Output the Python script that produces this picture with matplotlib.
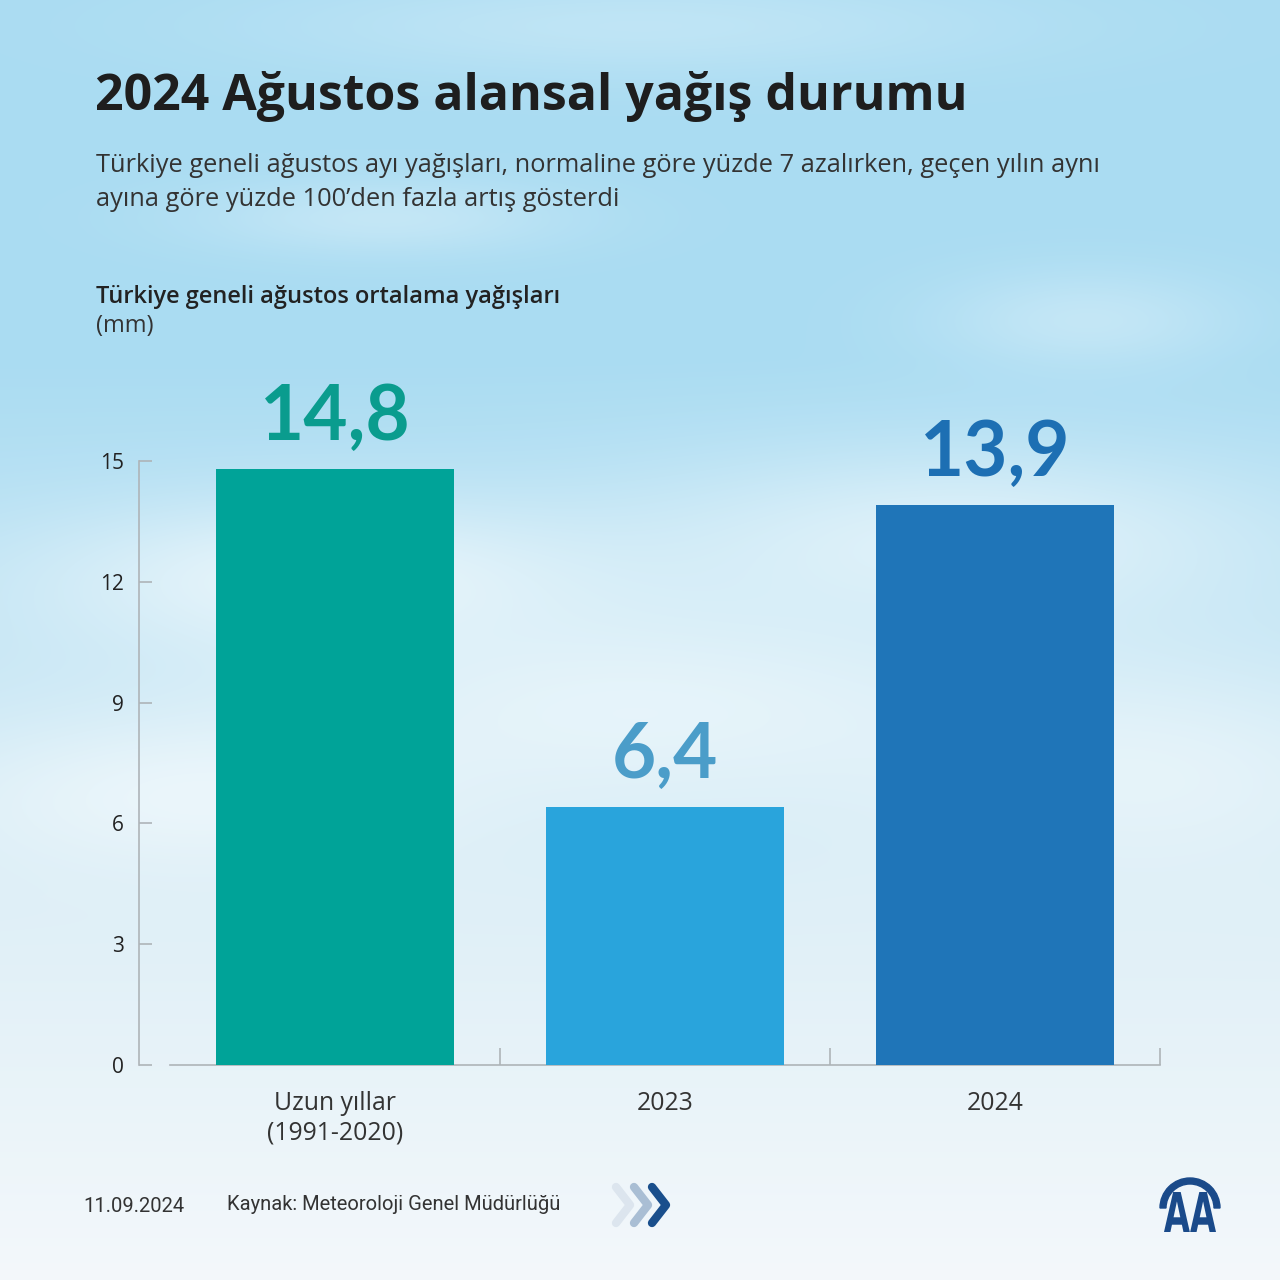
import numpy as np
import matplotlib.pyplot as plt
from matplotlib.patches import Wedge, PathPatch
from matplotlib.textpath import TextPath
from matplotlib.font_manager import FontProperties
from matplotlib.transforms import Affine2D

# veriler
kategoriler = ["Uzun yıllar\n(1991-2020)", "2023", "2024"]
degerler = [14.8, 6.4, 13.9]
bar_renk = ["#00A398", "#29A4DC", "#1F75B8"]
etiket_renk = ["#0A9C8E", "#4B9DC9", "#1D6FB3"]
y_ticks = [0, 3, 6, 9, 12, 15]

plt.rcParams['font.family'] = ['Open Sans', 'DejaVu Sans']

W, H = 1280, 1280
fig = plt.figure(figsize=(12.8, 12.8), dpi=100)

# arka plan: gökyüzü gradyanı + yumuşak bulutlar
bg = fig.add_axes([0, 0, 1, 1])
yy, xx = np.mgrid[0:H, 0:W] / H
top = np.array([170, 220, 242]) / 255
mid = np.array([222, 239, 247]) / 255
bot = np.array([244, 248, 251]) / 255
t = np.clip((yy - 0.28) / 0.42, 0, 1)[..., None]
t2 = np.clip((yy - 0.7) / 0.3, 0, 1)[..., None]
img = top * (1 - t) + mid * t
img = img * (1 - t2) + bot * t2
bulutlar = [(0.25, 0.45, 0.22, 0.06, 0.6), (0.75, 0.42, 0.25, 0.07, 0.5),
            (0.5, 0.55, 0.3, 0.08, 0.5), (0.15, 0.62, 0.2, 0.06, 0.5),
            (0.9, 0.6, 0.2, 0.08, 0.4), (0.3, 0.17, 0.15, 0.03, 0.3),
            (0.85, 0.25, 0.12, 0.04, 0.3), (0.5, 0.02, 0.3, 0.04, 0.25)]
for cx, cy, sx, sy, a in bulutlar:
    g = a * np.exp(-(((xx - cx) / sx) ** 2 + ((yy - cy) / sy) ** 2))
    img = img * (1 - g[..., None]) + g[..., None] * 1.0
bg.imshow(img, extent=[0, W, H, 0], aspect='auto')
bg.set_xlim(0, W)
bg.set_ylim(H, 0)
bg.axis('off')

# başlıklar
fig.text(95 / W, 1 - 110 / H, "2024 Ağustos alansal yağış durumu", fontsize=36,
         fontweight='bold', color='#1E1E1E', va='baseline')
fig.text(96 / W, 1 - 172 / H,
         "Türkiye geneli ağustos ayı yağışları, normaline göre yüzde 7 azalırken, geçen yılın aynı",
         fontsize=18.3, color='#333333', va='baseline')
fig.text(96 / W, 1 - 206 / H, "ayına göre yüzde 100’den fazla artış gösterdi",
         fontsize=18.3, color='#333333', va='baseline')
fig.text(96 / W, 1 - 303 / H, "Türkiye geneli ağustos ortalama yağışları", fontsize=17,
         fontweight='semibold', color='#222222', va='baseline')
fig.text(96 / W, 1 - 332 / H, "(mm)", fontsize=17, color='#333333', va='baseline')

# grafik
ax = fig.add_axes([139 / W, 1 - 1065 / H, (1160 - 139) / W, (1065 - 461) / H])
ax.patch.set_alpha(0)
x = np.arange(len(degerler))
ax.bar(x, degerler, width=0.72, color=bar_renk, zorder=3)
for i, v in enumerate(degerler):
    ax.annotate(f"{v:.1f}".replace('.', ','), xy=(i, v), xytext=(0, 21),
                textcoords='offset points', ha='center', va='baseline',
                fontsize=55, fontweight='bold', color=etiket_renk[i],
                annotation_clip=False, family=['Lato', 'DejaVu Sans'])

ax.set_xlim(-0.5 - 31 / 330, 2.5)
ax.set_ylim(0, 15)
ax.set_yticks(y_ticks)
ax.set_yticklabels([str(v) for v in y_ticks])
ax.set_xticks(x)
ax.set_xticklabels(kategoriler, linespacing=1.2)
ax.set_xticks([0.5, 1.5, 2.5], minor=True)

for s in ['top', 'right']:
    ax.spines[s].set_visible(False)
ax.spines['left'].set_bounds(0, 15)
ax.spines['bottom'].set_bounds(-0.5, 2.5)
for s in ['left', 'bottom']:
    ax.spines[s].set_color('#AEB4B8')
    ax.spines[s].set_linewidth(1.2)

ax.tick_params(axis='y', direction='in', length=9.5, width=1.2, color='#AEB4B8',
               pad=11, labelsize=15, labelcolor='#222222')
ax.tick_params(axis='x', which='major', length=0, pad=19, labelsize=17.8, labelcolor='#333333')
ax.tick_params(axis='x', which='minor', direction='in', length=12, width=1.2, color='#AEB4B8')

# alt bilgi
fig.text(83 / W, 1 - 1212 / H, "11.09.2024", fontsize=14.5, color='#333333', va='baseline',
         family='Roboto')
fig.text(227 / W, 1 - 1210 / H, "Kaynak: Meteoroloji Genel Müdürlüğü", fontsize=14.5,
         color='#333333', va='baseline', family='Roboto')

# oklar
for dx, c in [(0, '#DCE5EE'), (18, '#A9BED4'), (36, '#1A4F8C')]:
    x0 = 616 + dx
    bg.plot([x0, x0 + 14, x0], [1187, 1205, 1223], color=c, lw=6,
            solid_capstyle='round', solid_joinstyle='round')

# AA logosu (dar harfler)
logo = '#1A4A8A'
bg.add_patch(Wedge((1190, 1208), 30, 180, 360, width=6, color=logo))
tp = TextPath((0, 0), "AA", size=1, prop=FontProperties(family='DejaVu Sans', weight='bold'))
bb = tp.get_extents()
tr = (Affine2D().translate(-bb.x0, -bb.y0)
      .scale(52 / bb.width, -40 / bb.height).translate(1164, 1232))
bg.add_patch(PathPatch(tp, transform=tr + bg.transData, color=logo, lw=0))

fig.savefig("out.png", dpi=100)
